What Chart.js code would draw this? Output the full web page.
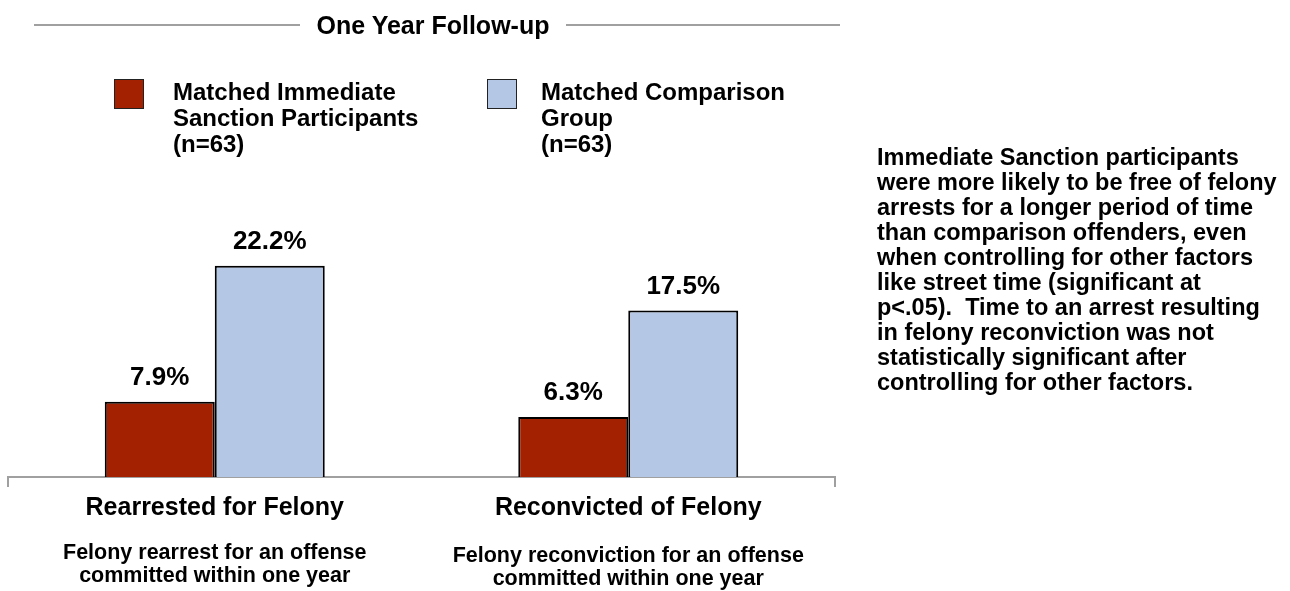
<!DOCTYPE html>
<html>
<head>
<meta charset="utf-8">
<script src="https://cdn.jsdelivr.net/npm/chart.js@4/dist/chart.umd.min.js"></script>
<style>
  body { margin: 0; background: #fff; font-family: "Liberation Sans", Arial, sans-serif; font-weight: bold; color: #000; }
  #wrap { position: relative; width: 1290px; height: 591px; overflow: hidden; }
  #chart { position: absolute; left: 0; top: 0; }
  .rule { position: absolute; top: 24px; height: 2px; background: #a0a0a0; }
  #title { position: absolute; left: 300px; width: 266px; top: 10px; text-align: center; font-size: 25px; line-height: 30px; }
  .key { position: absolute; top: 79px; font-size: 24px; line-height: 26px; }
  .swatch { position: absolute; top: 0; width: 30px; height: 30px; border: 1.5px solid #222; box-sizing: border-box; }
  .key .txt { position: absolute; top: 0; white-space: nowrap; }
  #note { position: absolute; left: 877px; top: 145px; font-size: 23.5px; line-height: 25px; white-space: nowrap; }
</style>
</head>
<body>
<div id="wrap">
  <canvas id="chart" width="1290" height="591"></canvas>
  <div class="rule" style="left:34px;width:266px"></div>
  <div class="rule" style="left:566px;width:274px"></div>
  <div id="title">One Year Follow-up</div>
  <div id="legend"></div>
  <div id="note"></div>
</div>
<script>
const categories = ["Rearrested for Felony", "Reconvicted of Felony"];
const categoryNotes = [
  ["Felony rearrest for an offense", "committed within one year"],
  ["Felony reconviction for an offense", "committed within one year"]
];
const seriesNames = [
  ["Matched Immediate", "Sanction Participants", "(n=63)"],
  ["Matched Comparison", "Group", "(n=63)"]
];
const immediateSanction = [7.9, 6.3];
const comparisonGroup = [22.2, 17.5];
const seriesColors = ["#a32100", "#b4c7e5"];
const noteLines = [
  "Immediate Sanction participants",
  "were more likely to be free of felony",
  "arrests for a longer period of time",
  "than comparison offenders, even",
  "when controlling for other factors",
  "like street time (significant at",
  "p<.05).  Time to an arrest resulting",
  "in felony reconviction was not",
  "statistically significant after",
  "controlling for other factors."
];

const FONT = '"Liberation Sans", Arial, sans-serif';

// legend blocks
const legend = document.getElementById("legend");
const keyX = [114, 487];
const txtX = [173, 541];
seriesNames.forEach((lines, i) => {
  const k = document.createElement("div");
  k.className = "key";
  k.style.left = "0px";
  k.innerHTML = `<div class="swatch" style="left:${keyX[i]}px;background:${seriesColors[i]}"></div>` +
    `<div class="txt" style="left:${txtX[i]}px">${lines.join("<br>")}</div>`;
  legend.appendChild(k);
});

document.getElementById("note").innerHTML = noteLines.join("<br>").replace("  ", "&nbsp; ");

// value labels over each bar
const valueLabels = {
  id: "valueLabels",
  afterDatasetsDraw(chart) {
    const ctx = chart.ctx;
    ctx.save();
    ctx.fillStyle = "#000";
    ctx.font = `bold 26px ${FONT}`;
    ctx.textAlign = "center";
    ctx.textBaseline = "middle";
    chart.data.datasets.forEach((ds, di) => {
      chart.getDatasetMeta(di).data.forEach((bar, i) => {
        ctx.fillText(ds.data[i].toFixed(1) + "%", bar.x, bar.y - 24);
      });
    });
    ctx.restore();
  }
};

// category names, notes and the end ticks on the baseline
const categoryText = {
  id: "categoryText",
  afterDraw(chart) {
    const ctx = chart.ctx;
    const x = chart.scales.x;
    const area = chart.chartArea;
    ctx.save();
    ctx.strokeStyle = "#a0a0a0";
    ctx.lineWidth = 2;
    ctx.beginPath();
    ctx.moveTo(area.left, area.bottom);
    ctx.lineTo(area.left, area.bottom + 10);
    ctx.moveTo(area.right, area.bottom);
    ctx.lineTo(area.right, area.bottom + 10);
    ctx.stroke();

    ctx.fillStyle = "#000";
    ctx.textAlign = "center";
    ctx.textBaseline = "middle";
    categories.forEach((c, i) => {
      const cx = x.getPixelForValue(i);
      ctx.font = `bold 25px ${FONT}`;
      ctx.fillText(c, cx, area.bottom + 31);
      ctx.font = `bold 21.5px ${FONT}`;
      categoryNotes[i].forEach((line, j) => {
        ctx.fillText(line, cx, area.bottom + 76 + i * 3 + j * 23);
      });
    });
    ctx.restore();
  }
};

new Chart(document.getElementById("chart"), {
  type: "bar",
  data: {
    labels: categories,
    datasets: [
      {
        label: seriesNames[0].join(" "),
        data: immediateSanction,
        backgroundColor: seriesColors[0],
        borderColor: "#000",
        borderWidth: 2
      },
      {
        label: seriesNames[1].join(" "),
        data: comparisonGroup,
        backgroundColor: seriesColors[1],
        borderColor: "#000",
        borderWidth: 2
      }
    ]
  },
  options: {
    responsive: false,
    animation: false,
    layout: { padding: { left: 8, right: 455, top: 239, bottom: 106 } },
    datasets: { bar: { barPercentage: 1, categoryPercentage: 0.532 } },
    plugins: { legend: { display: false }, tooltip: { enabled: false } },
    scales: {
      x: {
        grid: { display: false },
        ticks: { display: false },
        border: { display: true, color: "#a0a0a0", width: 2 }
      },
      y: { display: false, min: 0, max: 25 }
    }
  },
  plugins: [valueLabels, categoryText]
});
</script>
</body>
</html>
